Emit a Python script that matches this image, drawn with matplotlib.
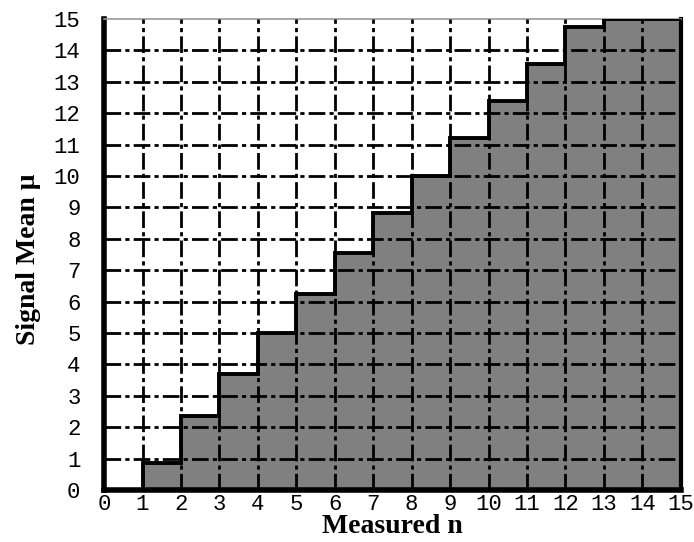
import numpy as np
import matplotlib.pyplot as plt

# lower edge of the belt for each measured n (bins n..n+1)
n_edges = np.arange(0, 16)
mu_low = [0.0, 0.86, 2.35, 3.68, 5.0, 6.24, 7.54, 8.81, 10.0, 11.2, 12.4, 13.57, 14.74, 15.0, 15.0]
ticks = list(range(0, 16))

fig = plt.figure(figsize=(6.94, 5.42), dpi=100)
ax = fig.add_axes([0.150, 0.096, 0.831, 0.869])

ax.stairs(mu_low, n_edges, fill=True, color="#808080", zorder=1)
ax.stairs(mu_low, n_edges, color="black", linewidth=2.8, baseline=None, zorder=4)

for v in ticks[1:-1]:
    ax.axvline(v, color="black", lw=2, ls=(0, (6, 1.5, 1.5, 1.5)), zorder=3)
    ax.axhline(v, color="black", lw=2, ls=(0, (6, 1.5, 1.5, 1.5)), zorder=3)

ax.set_xlim(0, 15)
ax.set_ylim(0, 15)
ax.set_xticks(ticks)
ax.set_yticks(ticks)
ax.tick_params(length=0, labelsize=16)
ax.tick_params(axis="y", pad=17)
ax.tick_params(axis="x", pad=3)
for lab in ax.get_xticklabels() + ax.get_yticklabels():
    lab.set_family("Liberation Mono")

for side, lw, c in [("left", 4, "black"), ("bottom", 4, "black"),
                    ("right", 3, "black"), ("top", 1.2, "#999999")]:
    ax.spines[side].set_linewidth(lw)
    ax.spines[side].set_color(c)

ax.set_xlabel("Measured n", family="Liberation Serif", fontsize=20, weight="bold")
ax.set_ylabel("Signal Mean \u03bc", family="Liberation Serif", fontsize=20, weight="bold")
ax.xaxis.set_label_coords(0.5, -0.05)
ax.yaxis.set_label_coords(-0.11, 0.49)

fig.savefig("out.png")
